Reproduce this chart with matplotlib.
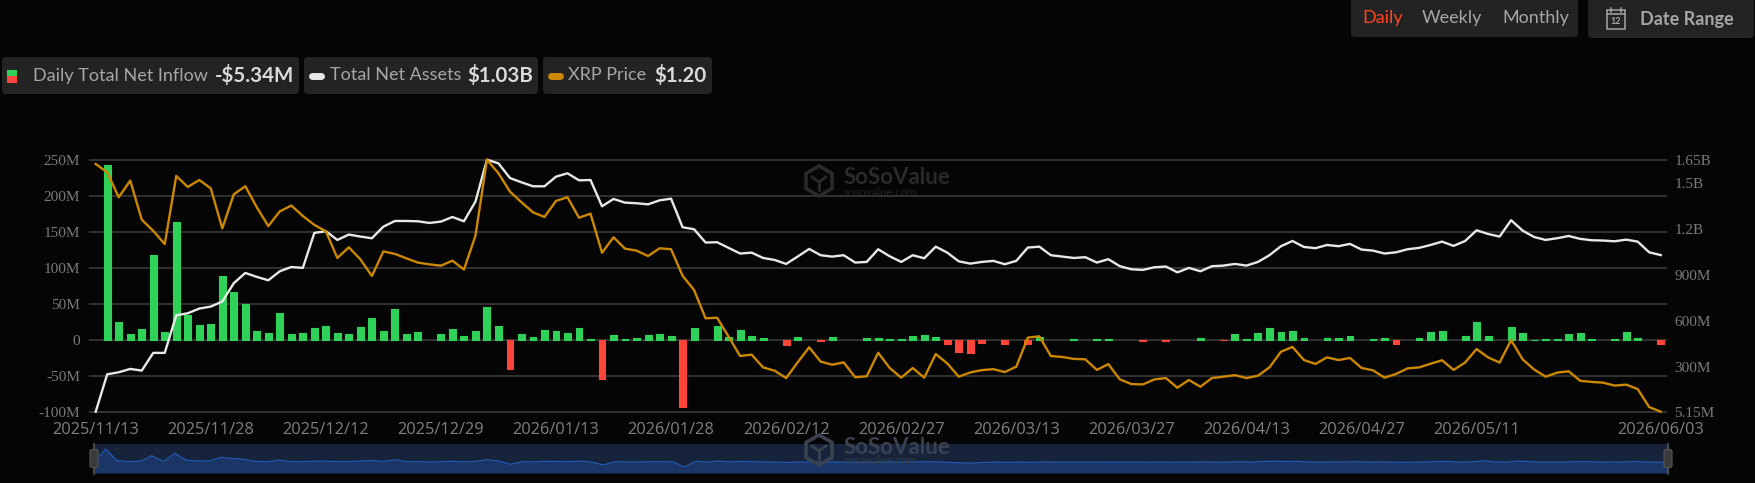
import numpy as np
import matplotlib
matplotlib.use("Agg")
import matplotlib.pyplot as plt
from matplotlib.patches import FancyBboxPatch, Rectangle, RegularPolygon

# values, one per trading day
inflow = [0, 243, 25, 8, 15, 118, 11, 164, 34, 21, 22, 89, 67, 50, 12, 9, 37, 8, 9, 16,
          19, 10, 8, 18, 30, 13, 43, 7.5, 11, 0, 8, 15, 5, 13, 46, 19, -41, 8, 4, 14,
          13, 10, 16, 1, -54, 6.5, 1.5, 3, 7, 8, 6, -93, 16, 0, 19, 4, 14, 5.6, 3, 0,
          -6.5, 4, 0, -2, 4, 0, 0, 2.5, 3, 1, 1.5, 6, 7, 4, -6, -17, -18, -4, 0, -6,
          0, -6, 4, 0, 0, 1.5, 0, 1, 1, 0, 0, -2, 0, -2, 0, 0, 3, 0, -0.5, 8,
          1, 10, 16, 11, 13, 2, 0, 2, 3, 6, 0, 1.5, 3, -6, 0, 3, 11, 12, 0, 5,
          25, 5, 0, 18, 10, 0.5, 1, 1, 8, 9, 1, 0, 1, 11, 3, 0, -5.34]

assets = [5.15, 250, 263, 285, 274, 390, 390, 636, 649, 680, 693, 726, 846, 913, 887, 865, 924, 952, 946, 1175,
          1186, 1129, 1164, 1151, 1140, 1216, 1253, 1253, 1251, 1240, 1249, 1279, 1251, 1380, 1654, 1630, 1534, 1506, 1480, 1480,
          1543, 1565, 1519, 1521, 1349, 1397, 1373, 1369, 1362, 1388, 1399, 1212, 1199, 1112, 1114, 1077, 1040, 1046, 1011, 998,
          972, 1020, 1070, 1029, 1020, 1029, 981, 985, 1068, 1022, 985, 1029, 1009, 1085, 1046, 989, 974, 985, 992, 970,
          992, 1079, 1085, 1029, 1020, 1011, 1016, 981, 1003, 957, 937, 933, 950, 955, 917, 946, 924, 957, 961, 972,
          961, 985, 1029, 1088, 1122, 1083, 1075, 1096, 1088, 1103, 1066, 1059, 1040, 1048, 1068, 1077, 1096, 1118, 1090, 1122,
          1192, 1168, 1151, 1258, 1190, 1148, 1129, 1140, 1155, 1136, 1127, 1125, 1120, 1131, 1118, 1048, 1030]

price = [2.481, 2.438, 2.309, 2.395, 2.193, 2.135, 2.067, 2.419, 2.362, 2.398, 2.355, 2.148, 2.324, 2.366, 2.257, 2.160, 2.236, 2.266, 2.212, 2.166,
         2.133, 1.995, 2.050, 1.988, 1.902, 2.029, 2.016, 1.993, 1.971, 1.962, 1.955, 1.981, 1.935, 2.110, 2.503, 2.433, 2.338, 2.283, 2.231, 2.207,
         2.290, 2.309, 2.203, 2.224, 2.022, 2.102, 2.043, 2.033, 2.005, 2.045, 2.040, 1.903, 1.829, 1.683, 1.686, 1.588, 1.488, 1.495, 1.429, 1.412,
         1.374, 1.455, 1.533, 1.459, 1.443, 1.455, 1.378, 1.383, 1.505, 1.426, 1.376, 1.426, 1.376, 1.498, 1.450, 1.381, 1.403, 1.415, 1.420, 1.405,
         1.433, 1.583, 1.590, 1.488, 1.483, 1.473, 1.471, 1.416, 1.446, 1.367, 1.343, 1.341, 1.367, 1.374, 1.324, 1.364, 1.329, 1.374, 1.381, 1.389,
         1.374, 1.386, 1.429, 1.510, 1.535, 1.467, 1.447, 1.481, 1.467, 1.478, 1.426, 1.414, 1.376, 1.395, 1.424, 1.429, 1.448, 1.466, 1.416, 1.454,
         1.524, 1.481, 1.454, 1.570, 1.471, 1.418, 1.381, 1.402, 1.409, 1.360, 1.354, 1.350, 1.335, 1.340, 1.317, 1.224, 1.200]

date_ticks = [0, 10, 20, 30, 40, 50, 60, 70, 80, 90, 100, 110, 120, 136]
date_labels = ["2025/11/13", "2025/11/28", "2025/12/12", "2025/12/29", "2026/01/13", "2026/01/28", "2026/02/12",
               "2026/02/27", "2026/03/13", "2026/03/27", "2026/04/13", "2026/04/27", "2026/05/11", "2026/06/03"]
left_ticks = [-100, -50, 0, 50, 100, 150, 200, 250]
left_labels = ["-100M", "-50M", "0", "50M", "100M", "150M", "200M", "250M"]
right_ticks = [5.15, 300, 600, 900, 1200, 1500, 1650]
right_labels = ["5.15M", "300M", "600M", "900M", "1.2B", "1.5B", "1.65B"]

W, H = 1756, 483
BG = "#050505"
PANEL = "#232323"
GRID = "#303030"
GREEN = "#30D158"
RED = "#FF453A"
WHITE = "#E8E8E8"
ORANGE = "#CC8800"
TICK = "#7A7A7A"


def px_axes(x0, y0, x1, y1, **kw):
    # axes placed with pixel coordinates measured from the top left
    return fig.add_axes([x0 / W, 1 - y1 / H, (x1 - x0) / W, (y1 - y0) / H], **kw)


def panel(ax, x0, y0, x1, y1):
    ax.add_patch(FancyBboxPatch((x0 + 4, y0 + 4), x1 - x0 - 8, y1 - y0 - 8,
                                boxstyle="round,pad=4,rounding_size=4", fc=PANEL, ec="none"))


def watermark(ax, x, y, color, sub_color):
    ax.add_patch(RegularPolygon((x, y), 6, radius=15, fc="none", ec=color, lw=2.6))
    ax.plot([x - 7, x, x + 7], [y - 4, y + 1, y - 4], color=color, lw=2)
    ax.plot([x, x], [y + 1, y + 9], color=color, lw=2)
    ax.text(x + 25, y - 3, "SoSoValue", color=color, fontsize=16, fontweight="bold",
            family="Lato", va="center", ha="left")
    ax.text(x + 25, y + 11, "sosovalue.com", color=sub_color, fontsize=8.2,
            family="Lato", va="center", ha="left")


fig = plt.figure(figsize=(W / 100, H / 100), dpi=100, facecolor=BG)

# page furniture behind the chart
ui = px_axes(0, 0, W, H, zorder=0)
ui.set_xlim(0, W)
ui.set_ylim(H, 0)
ui.axis("off")

panel(ui, 2, 57, 299, 94)
panel(ui, 304, 57, 538, 94)
panel(ui, 543, 57, 712, 94)
panel(ui, 1351, -8, 1578, 37)
panel(ui, 1588, -8, 1754, 38)

ui.add_patch(Rectangle((7, 69.5), 10, 6.5, fc=GREEN, ec="none"))
ui.add_patch(Rectangle((7, 76), 10, 6.5, fc=RED, ec="none"))
ui.plot([312, 321], [75.5, 75.5], color=WHITE, lw=5, solid_capstyle="round")
ui.plot([551, 560], [75.5, 75.5], color=ORANGE, lw=5, solid_capstyle="round")

LABEL = "#A6A6A6"
VALUE = "#DADADA"
for x0, s in [(33, "Daily Total Net Inflow"), (330, "Total Net Assets"), (568, "XRP Price")]:
    ui.text(x0, 75.5, s, color=LABEL, fontsize=13, family="Lato", va="center", ha="left")
for x0, s in [(215, "-$5.34M"), (467, "$1.03B"), (654, "$1.20")]:
    ui.text(x0, 75.5, s, color=VALUE, fontsize=14.8, family="Lato", fontweight="bold", va="center", ha="left")

ui.text(1362, 18, "Daily", color="#FF4422", fontsize=13, family="Lato", va="center", ha="left")
ui.text(1422, 18, "Weekly", color=LABEL, fontsize=13, family="Lato", va="center", ha="left")
ui.text(1502, 18, "Monthly", color=LABEL, fontsize=13, family="Lato", va="center", ha="left")
ui.text(1640, 19, "Date Range", color=LABEL, fontsize=13, family="Lato", fontweight="bold", va="center", ha="left")

# calendar icon
ui.add_patch(Rectangle((1607, 10), 18, 19, fc="none", ec=LABEL, lw=1.1))
ui.plot([1607, 1625], [14, 14], color=LABEL, lw=1.1)
ui.plot([1611, 1611], [8, 12], color=LABEL, lw=1.1)
ui.plot([1621, 1621], [8, 12], color=LABEL, lw=1.1)
ui.text(1616, 22, "12", color=LABEL, fontsize=6.5, family="Lato", fontweight="bold", va="center", ha="center")

watermark(ui, 819, 181, "#2A2A2A", "#242424")

# main chart
x = np.arange(len(inflow))
flows = np.array(inflow)
up = flows > 0
down = flows < 0

ax = px_axes(89.95, 160.3, 1666.45, 411.7, zorder=2)
ax.patch.set_alpha(0)
for c, mask in [(GREEN, up), (RED, down)]:
    bars = ax.bar(x[mask], flows[mask], width=0.6, color=c, edgecolor=c, linewidth=0.8, zorder=3)
    for b in bars:
        b.set_joinstyle("round")
ax.set_xlim(-0.5, len(inflow) - 0.5)
ax.set_ylim(-100, 250)
ax.set_yticks(left_ticks, left_labels, family="Liberation Serif", fontsize=11, color=TICK)
ax.set_xticks(date_ticks, date_labels, family="Open Sans", fontsize=11.8, color="#808080")
ax.tick_params(axis="both", length=0)
ax.tick_params(axis="y", pad=7)
ax.tick_params(axis="x", pad=7.5)
ax.grid(axis="y", color=GRID, lw=1.5)
ax.set_axisbelow(True)
for line in ax.get_ygridlines():
    line.set_clip_on(False)
for s in ax.spines.values():
    s.set_visible(False)

ax2 = ax.twinx()
ax2.plot(x, assets, color=WHITE, lw=1.7, solid_joinstyle="round", clip_on=False, zorder=4)
ax2.set_ylim(5.15, 1650)
ax2.set_yticks(right_ticks, right_labels, family="Liberation Serif", fontsize=11, color=TICK)
ax2.tick_params(axis="y", length=0, pad=5.7)

ax3 = ax.twinx()
ax3.plot(x, price, color=ORANGE, lw=1.7, solid_joinstyle="round", clip_on=False, zorder=5)
ax3.set_ylim(1.20, 2.50)
ax3.axis("off")
for a in (ax2, ax3):
    a.grid(False)
    for s in a.spines.values():
        s.set_visible(False)

# range slider
sl = px_axes(94, 444, 1668, 473, zorder=3)
sl.set_facecolor("#17233B")
sl.fill_between(x, flows, -205, color="#1A3566", lw=0)
sl.plot(x, flows, color="#1F5AB0", lw=0.9)
sl.set_xlim(0, len(inflow) - 1)
sl.set_ylim(-205, 340)
sl.set_xticks([])
sl.set_yticks([])
for s in sl.spines.values():
    s.set_visible(False)

top = px_axes(0, 0, W, H, zorder=4)
top.set_xlim(0, W)
top.set_ylim(H, 0)
top.axis("off")
top.patch.set_alpha(0)
watermark(top, 819, 450, "#3A4250", "#343C4A")
for hx in (94, 1668):
    top.plot([hx, hx], [444, 474], color="#555555", lw=1.2)
    top.add_patch(FancyBboxPatch((hx - 2.5, 451), 5, 15, boxstyle="round,pad=1.5,rounding_size=2",
                                 fc="#3A3A3A", ec="#555555", lw=0.8, zorder=3))

fig.savefig("out.png", dpi=100, facecolor=fig.get_facecolor())
